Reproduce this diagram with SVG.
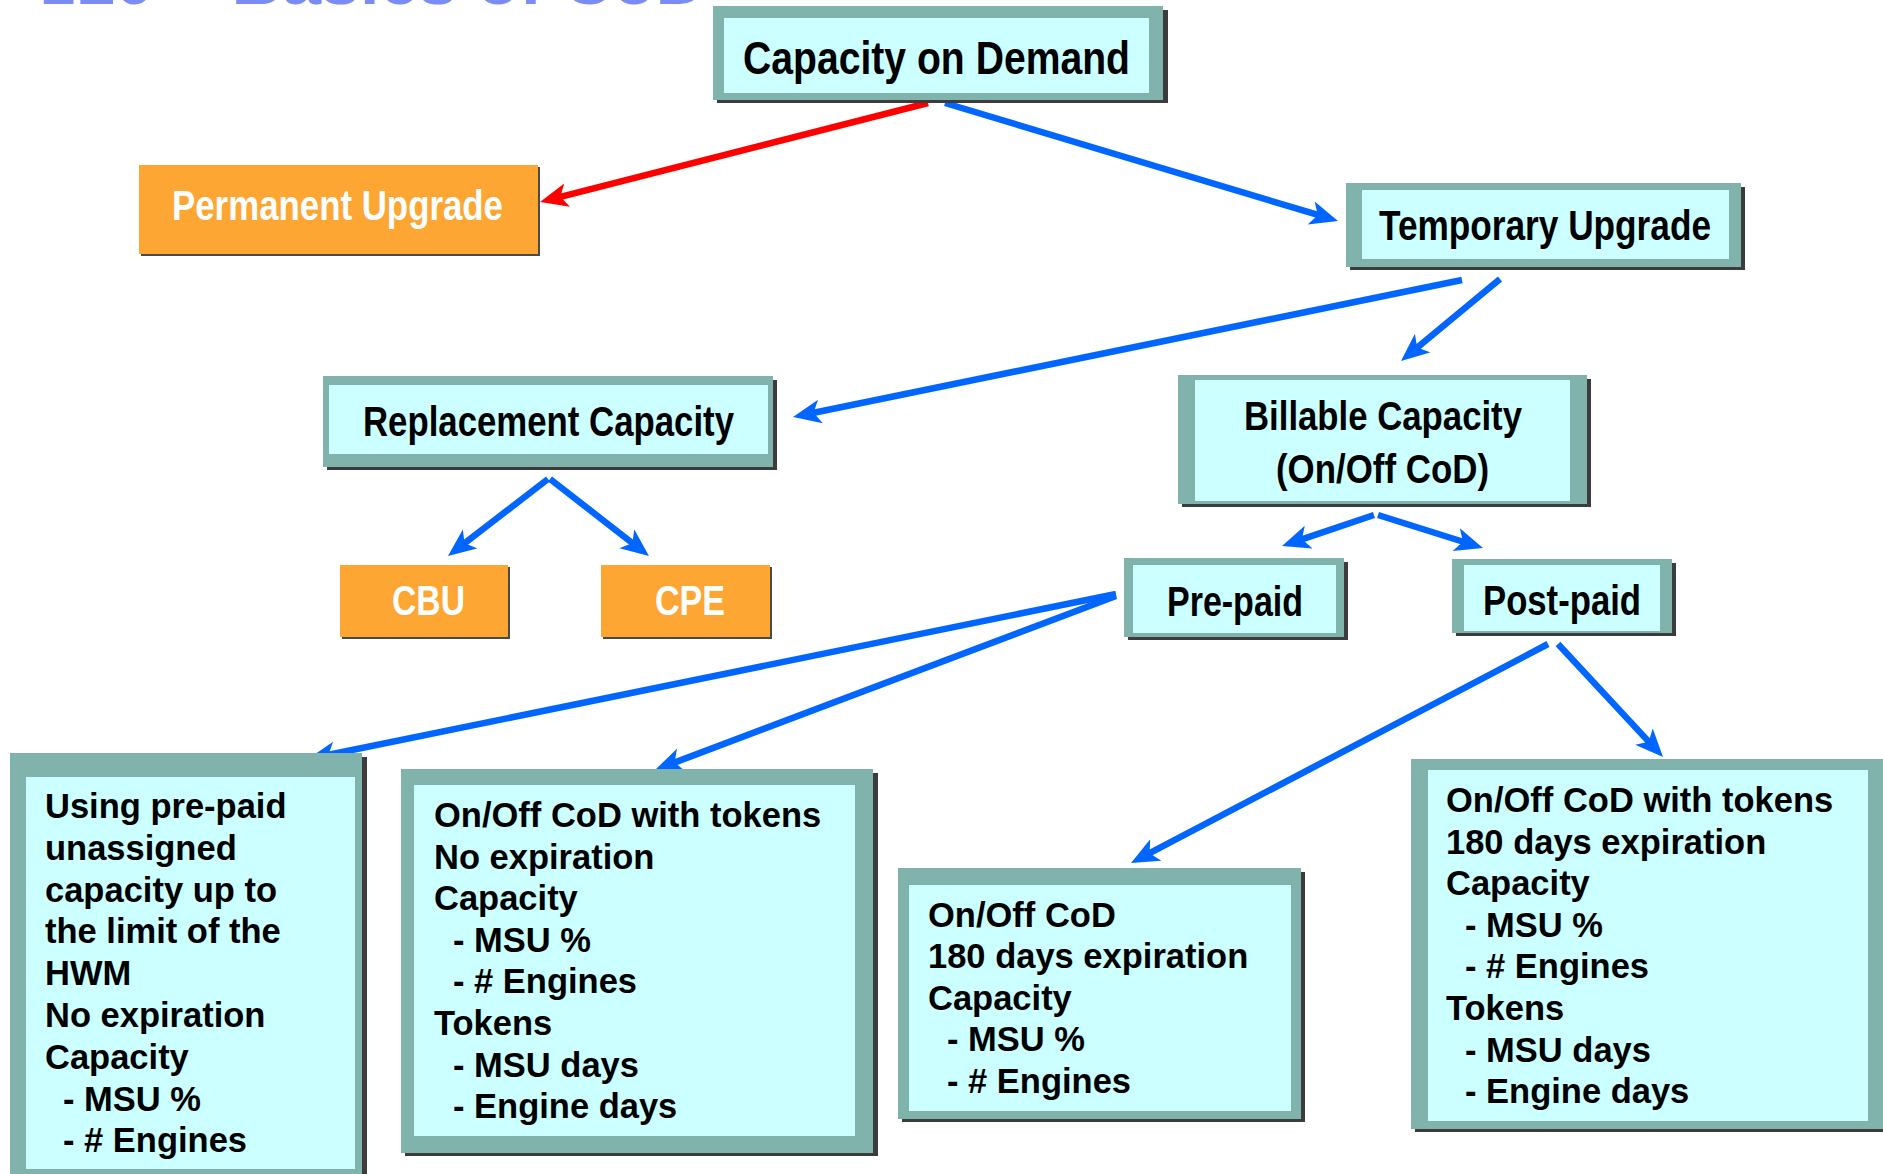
<svg xmlns="http://www.w3.org/2000/svg" width="1883" height="1174" viewBox="0 0 1883 1174">
<defs>
<style>
.sh{fill:#3c3c3c}
.tb{fill:#7fb3ab}
.in{fill:#ccffff}
.or{fill:#fda634}
.osh{fill:#4a4a4a}
.hd{font-family:"Liberation Sans",Arial,sans-serif;font-weight:bold;fill:#000}
.hw{font-family:"Liberation Sans",Arial,sans-serif;font-weight:bold;fill:#fff}
.bd{font-family:"Liberation Sans",Arial,sans-serif;font-weight:bold;font-size:34.5px;fill:#000}
.ttl{font-family:"Liberation Sans",Arial,sans-serif;font-weight:bold;font-size:66px;fill:#7b8cf7}
.cb{fill:none;stroke:#0066ff;stroke-width:6.5;stroke-linecap:butt}
.cr{fill:none;stroke:#ff0000;stroke-width:6.5;stroke-linecap:butt}
</style>
<marker id="ab" markerUnits="userSpaceOnUse" markerWidth="30" markerHeight="26" refX="8" refY="12" orient="auto" viewBox="0 0 30 26">
<path d="M0,0 L28,12 L0,24 L7,12 z" fill="#0066ff"/>
</marker>
<marker id="ar" markerUnits="userSpaceOnUse" markerWidth="30" markerHeight="26" refX="8" refY="12" orient="auto" viewBox="0 0 30 26">
<path d="M0,0 L28,12 L0,24 L7,12 z" fill="#ff0000"/>
</marker>
</defs>
<rect x="0" y="0" width="1883" height="1174" fill="#ffffff"/>
<text class="ttl" x="41" y="4" textLength="665" lengthAdjust="spacingAndGlyphs">z10 – Basics of CoD</text>

<g id="connectors">
<path class="cr" d="M928,103 L559.4,197.1" marker-end="url(#ar)"/>
<path class="cb" d="M945,103 L1318.8,215.2" marker-end="url(#ab)"/>
<path class="cb" d="M1462,280 L812.6,413" marker-end="url(#ab)"/>
<path class="cb" d="M1500,279 L1416.4,348.2" marker-end="url(#ab)"/>
<path class="cb" d="M548,479 L463.8,543.8" marker-end="url(#ab)"/>
<path class="cb" d="M550,479 L633.2,543.7" marker-end="url(#ab)"/>
<path class="cb" d="M1374,515 L1301,539.6" marker-end="url(#ab)"/>
<path class="cb" d="M1378,515 L1463.9,542" marker-end="url(#ab)"/>
<path class="cb" d="M1116,594 L327.6,755" marker-end="url(#ab)"/>
<path class="cb" d="M1116,596 L673.7,762.9" marker-end="url(#ab)"/>
<path class="cb" d="M1548,644 L1148.7,853.7" marker-end="url(#ab)"/>
<path class="cb" d="M1558,644 L1649.4,742.4" marker-end="url(#ab)"/>
</g>

<g id="n-cod">
<rect class="sh" x="717" y="10" width="451" height="93"/>
<rect class="tb" x="713" y="6" width="450" height="94"/>
<rect class="in" x="724" y="18" width="425" height="75"/>
<text class="hd" x="743" y="74" font-size="47" textLength="387" lengthAdjust="spacingAndGlyphs">Capacity on Demand</text>
</g>

<g id="n-permanent">
<rect class="osh" x="141" y="167" width="399" height="89"/>
<rect class="or" x="139" y="165" width="399" height="89"/>
<text class="hw" x="172" y="220" font-size="42" textLength="331" lengthAdjust="spacingAndGlyphs">Permanent Upgrade</text>
</g>

<g id="n-temporary">
<rect class="sh" x="1350" y="187" width="395" height="83"/>
<rect class="tb" x="1346" y="183" width="395" height="84"/>
<rect class="in" x="1362" y="190" width="367" height="69"/>
<text class="hd" x="1379" y="240" font-size="42" textLength="332" lengthAdjust="spacingAndGlyphs">Temporary Upgrade</text>
</g>

<g id="n-replacement">
<rect class="sh" x="327" y="380" width="450" height="90"/>
<rect class="tb" x="323" y="376" width="450" height="91"/>
<rect class="in" x="329" y="385" width="439" height="69"/>
<text class="hd" x="363" y="436" font-size="42" textLength="371" lengthAdjust="spacingAndGlyphs">Replacement Capacity</text>
</g>

<g id="n-billable">
<rect class="sh" x="1182" y="379" width="409" height="128"/>
<rect class="tb" x="1178" y="375" width="409" height="129"/>
<rect class="in" x="1195" y="380" width="375" height="121"/>
<text class="hd" x="1244" y="430" font-size="41" textLength="278" lengthAdjust="spacingAndGlyphs">Billable Capacity</text>
<text class="hd" x="1276" y="483" font-size="41" textLength="213" lengthAdjust="spacingAndGlyphs">(On/Off CoD)</text>
</g>

<g id="n-cbu">
<rect class="osh" x="342" y="567" width="168" height="72"/>
<rect class="or" x="340" y="565" width="168" height="72"/>
<text class="hw" x="392" y="615" font-size="42" textLength="73" lengthAdjust="spacingAndGlyphs">CBU</text>
</g>

<g id="n-cpe">
<rect class="osh" x="603" y="567" width="169" height="72"/>
<rect class="or" x="601" y="565" width="169" height="72"/>
<text class="hw" x="655" y="615" font-size="42" textLength="70" lengthAdjust="spacingAndGlyphs">CPE</text>
</g>

<g id="n-prepaid">
<rect class="sh" x="1128" y="562" width="220" height="78"/>
<rect class="tb" x="1124" y="558" width="220" height="79"/>
<rect class="in" x="1133" y="565" width="203" height="68"/>
<text class="hd" x="1167" y="616" font-size="42" textLength="136" lengthAdjust="spacingAndGlyphs">Pre-paid</text>
</g>

<g id="n-postpaid">
<rect class="sh" x="1456" y="563" width="220" height="73"/>
<rect class="tb" x="1452" y="559" width="220" height="74"/>
<rect class="in" x="1464" y="565" width="196" height="66"/>
<text class="hd" x="1483" y="615" font-size="42" textLength="158" lengthAdjust="spacingAndGlyphs">Post-paid</text>
</g>

<g id="n-unassigned">
<rect class="sh" x="14" y="757" width="353" height="430"/>
<rect class="tb" x="10" y="753" width="352" height="430"/>
<rect class="in" x="26" y="777" width="329" height="392"/>
<text class="bd" x="45" y="818">Using pre-paid</text>
<text class="bd" x="45" y="860">unassigned</text>
<text class="bd" x="45" y="902">capacity up to</text>
<text class="bd" x="45" y="943">the limit of the</text>
<text class="bd" x="45" y="985">HWM</text>
<text class="bd" x="45" y="1027">No expiration</text>
<text class="bd" x="45" y="1069">Capacity</text>
<text class="bd" x="63" y="1111">- MSU %</text>
<text class="bd" x="63" y="1152">- # Engines</text>
</g>

<g id="n-tokens-noexp">
<rect class="sh" x="405" y="773" width="473" height="383"/>
<rect class="tb" x="401" y="769" width="472" height="384"/>
<rect class="in" x="414" y="785" width="441" height="351"/>
<text class="bd" x="434" y="827">On/Off CoD with tokens</text>
<text class="bd" x="434" y="869">No expiration</text>
<text class="bd" x="434" y="910">Capacity</text>
<text class="bd" x="453" y="952">- MSU %</text>
<text class="bd" x="453" y="993">- # Engines</text>
<text class="bd" x="434" y="1035">Tokens</text>
<text class="bd" x="453" y="1077">- MSU days</text>
<text class="bd" x="453" y="1118">- Engine days</text>
</g>

<g id="n-onoff-180">
<rect class="sh" x="902" y="872" width="403" height="250"/>
<rect class="tb" x="898" y="868" width="403" height="251"/>
<rect class="in" x="909" y="885" width="382" height="226"/>
<text class="bd" x="928" y="927">On/Off CoD</text>
<text class="bd" x="928" y="968">180 days expiration</text>
<text class="bd" x="928" y="1010">Capacity</text>
<text class="bd" x="947" y="1051">- MSU %</text>
<text class="bd" x="947" y="1093">- # Engines</text>
</g>

<g id="n-tokens-180">
<rect class="sh" x="1415" y="763" width="480" height="369"/>
<rect class="tb" x="1411" y="759" width="480" height="370"/>
<rect class="in" x="1428" y="770" width="440" height="351"/>
<text class="bd" x="1446" y="812">On/Off CoD with tokens</text>
<text class="bd" x="1446" y="854">180 days expiration</text>
<text class="bd" x="1446" y="895">Capacity</text>
<text class="bd" x="1465" y="937">- MSU %</text>
<text class="bd" x="1465" y="978">- # Engines</text>
<text class="bd" x="1446" y="1020">Tokens</text>
<text class="bd" x="1465" y="1062">- MSU days</text>
<text class="bd" x="1465" y="1103">- Engine days</text>
</g>
</svg>
